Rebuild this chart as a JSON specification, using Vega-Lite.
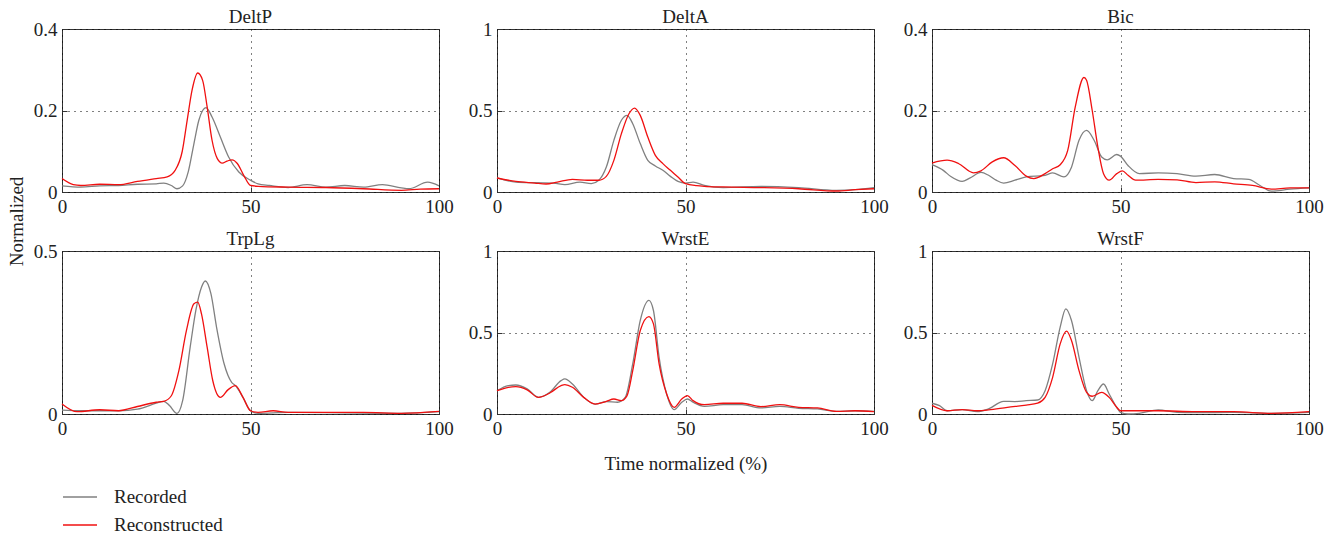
{
"$schema":"https://vega.github.io/schema/vega-lite/v6.json",
"padding":{"left":6,"top":7,"right":5,"bottom":5},
"background":"white",
"datasets":{"d":[
{"m":"DeltP","s":"Recorded","t":0,"v":0.015},{"m":"DeltP","s":"Recorded","t":5,"v":0.012},{"m":"DeltP","s":"Recorded","t":10,"v":0.015},{"m":"DeltP","s":"Recorded","t":15,"v":0.016},{"m":"DeltP","s":"Recorded","t":20,"v":0.019},{"m":"DeltP","s":"Recorded","t":25,"v":0.02},{"m":"DeltP","s":"Recorded","t":27,"v":0.022},{"m":"DeltP","s":"Recorded","t":29,"v":0.016},{"m":"DeltP","s":"Recorded","t":30.5,"v":0.008},{"m":"DeltP","s":"Recorded","t":32,"v":0.015},{"m":"DeltP","s":"Recorded","t":33.5,"v":0.05},{"m":"DeltP","s":"Recorded","t":35,"v":0.119},{"m":"DeltP","s":"Recorded","t":36.3,"v":0.176},{"m":"DeltP","s":"Recorded","t":37.3,"v":0.2},{"m":"DeltP","s":"Recorded","t":38.2,"v":0.207},{"m":"DeltP","s":"Recorded","t":39.8,"v":0.184},{"m":"DeltP","s":"Recorded","t":42,"v":0.135},{"m":"DeltP","s":"Recorded","t":44.2,"v":0.086},{"m":"DeltP","s":"Recorded","t":46.9,"v":0.049},{"m":"DeltP","s":"Recorded","t":50,"v":0.029},{"m":"DeltP","s":"Recorded","t":52,"v":0.02},{"m":"DeltP","s":"Recorded","t":55,"v":0.016},{"m":"DeltP","s":"Recorded","t":60,"v":0.011},{"m":"DeltP","s":"Recorded","t":65,"v":0.018},{"m":"DeltP","s":"Recorded","t":70,"v":0.012},{"m":"DeltP","s":"Recorded","t":75,"v":0.016},{"m":"DeltP","s":"Recorded","t":80,"v":0.012},{"m":"DeltP","s":"Recorded","t":85,"v":0.018},{"m":"DeltP","s":"Recorded","t":90,"v":0.01},{"m":"DeltP","s":"Recorded","t":92,"v":0.008},{"m":"DeltP","s":"Recorded","t":97,"v":0.024},{"m":"DeltP","s":"Recorded","t":100,"v":0.015},
{"m":"DeltP","s":"Reconstructed","t":0,"v":0.033},{"m":"DeltP","s":"Reconstructed","t":3,"v":0.018},{"m":"DeltP","s":"Reconstructed","t":5,"v":0.016},{"m":"DeltP","s":"Reconstructed","t":10,"v":0.019},{"m":"DeltP","s":"Reconstructed","t":15,"v":0.018},{"m":"DeltP","s":"Reconstructed","t":20,"v":0.026},{"m":"DeltP","s":"Reconstructed","t":25,"v":0.033},{"m":"DeltP","s":"Reconstructed","t":27.9,"v":0.037},{"m":"DeltP","s":"Reconstructed","t":30,"v":0.053},{"m":"DeltP","s":"Reconstructed","t":31.9,"v":0.1},{"m":"DeltP","s":"Reconstructed","t":33.2,"v":0.176},{"m":"DeltP","s":"Reconstructed","t":34.5,"v":0.25},{"m":"DeltP","s":"Reconstructed","t":36,"v":0.292},{"m":"DeltP","s":"Reconstructed","t":37.3,"v":0.274},{"m":"DeltP","s":"Reconstructed","t":38.5,"v":0.209},{"m":"DeltP","s":"Reconstructed","t":39.8,"v":0.127},{"m":"DeltP","s":"Reconstructed","t":41.2,"v":0.082},{"m":"DeltP","s":"Reconstructed","t":42.5,"v":0.071},{"m":"DeltP","s":"Reconstructed","t":43.8,"v":0.076},{"m":"DeltP","s":"Reconstructed","t":45.1,"v":0.079},{"m":"DeltP","s":"Reconstructed","t":46.5,"v":0.07},{"m":"DeltP","s":"Reconstructed","t":48.2,"v":0.041},{"m":"DeltP","s":"Reconstructed","t":50,"v":0.016},{"m":"DeltP","s":"Reconstructed","t":52,"v":0.014},{"m":"DeltP","s":"Reconstructed","t":60,"v":0.012},{"m":"DeltP","s":"Reconstructed","t":70,"v":0.011},{"m":"DeltP","s":"Reconstructed","t":80,"v":0.008},{"m":"DeltP","s":"Reconstructed","t":90,"v":0.004},{"m":"DeltP","s":"Reconstructed","t":95,"v":0.007},{"m":"DeltP","s":"Reconstructed","t":100,"v":0.008},
{"m":"DeltA","s":"Recorded","t":0,"v":0.086},{"m":"DeltA","s":"Recorded","t":5,"v":0.061},{"m":"DeltA","s":"Recorded","t":10,"v":0.057},{"m":"DeltA","s":"Recorded","t":15,"v":0.055},{"m":"DeltA","s":"Recorded","t":18,"v":0.045},{"m":"DeltA","s":"Recorded","t":22,"v":0.061},{"m":"DeltA","s":"Recorded","t":25,"v":0.051},{"m":"DeltA","s":"Recorded","t":27,"v":0.072},{"m":"DeltA","s":"Recorded","t":29,"v":0.153},{"m":"DeltA","s":"Recorded","t":31,"v":0.317},{"m":"DeltA","s":"Recorded","t":33,"v":0.44},{"m":"DeltA","s":"Recorded","t":34.5,"v":0.47},{"m":"DeltA","s":"Recorded","t":36,"v":0.419},{"m":"DeltA","s":"Recorded","t":38,"v":0.297},{"m":"DeltA","s":"Recorded","t":40,"v":0.194},{"m":"DeltA","s":"Recorded","t":42,"v":0.16},{"m":"DeltA","s":"Recorded","t":44,"v":0.133},{"m":"DeltA","s":"Recorded","t":46,"v":0.096},{"m":"DeltA","s":"Recorded","t":48,"v":0.065},{"m":"DeltA","s":"Recorded","t":50,"v":0.055},{"m":"DeltA","s":"Recorded","t":52,"v":0.061},{"m":"DeltA","s":"Recorded","t":55,"v":0.041},{"m":"DeltA","s":"Recorded","t":60,"v":0.027},{"m":"DeltA","s":"Recorded","t":70,"v":0.035},{"m":"DeltA","s":"Recorded","t":80,"v":0.027},{"m":"DeltA","s":"Recorded","t":90,"v":0.01},{"m":"DeltA","s":"Recorded","t":95,"v":0.014},{"m":"DeltA","s":"Recorded","t":100,"v":0.027},
{"m":"DeltA","s":"Reconstructed","t":0,"v":0.086},{"m":"DeltA","s":"Reconstructed","t":5,"v":0.065},{"m":"DeltA","s":"Reconstructed","t":10,"v":0.055},{"m":"DeltA","s":"Reconstructed","t":13,"v":0.049},{"m":"DeltA","s":"Reconstructed","t":16,"v":0.061},{"m":"DeltA","s":"Reconstructed","t":20,"v":0.078},{"m":"DeltA","s":"Reconstructed","t":24,"v":0.072},{"m":"DeltA","s":"Reconstructed","t":27,"v":0.072},{"m":"DeltA","s":"Reconstructed","t":29,"v":0.096},{"m":"DeltA","s":"Reconstructed","t":31,"v":0.194},{"m":"DeltA","s":"Reconstructed","t":33,"v":0.358},{"m":"DeltA","s":"Reconstructed","t":35,"v":0.48},{"m":"DeltA","s":"Reconstructed","t":36.5,"v":0.515},{"m":"DeltA","s":"Reconstructed","t":38,"v":0.47},{"m":"DeltA","s":"Reconstructed","t":40,"v":0.337},{"m":"DeltA","s":"Reconstructed","t":42,"v":0.225},{"m":"DeltA","s":"Reconstructed","t":44,"v":0.174},{"m":"DeltA","s":"Reconstructed","t":46,"v":0.133},{"m":"DeltA","s":"Reconstructed","t":48,"v":0.092},{"m":"DeltA","s":"Reconstructed","t":50,"v":0.051},{"m":"DeltA","s":"Reconstructed","t":53,"v":0.039},{"m":"DeltA","s":"Reconstructed","t":55,"v":0.035},{"m":"DeltA","s":"Reconstructed","t":60,"v":0.031},{"m":"DeltA","s":"Reconstructed","t":70,"v":0.027},{"m":"DeltA","s":"Reconstructed","t":80,"v":0.02},{"m":"DeltA","s":"Reconstructed","t":90,"v":0.006},{"m":"DeltA","s":"Reconstructed","t":95,"v":0.014},{"m":"DeltA","s":"Reconstructed","t":100,"v":0.02},
{"m":"Bic","s":"Recorded","t":0,"v":0.067},{"m":"Bic","s":"Recorded","t":3,"v":0.053},{"m":"Bic","s":"Recorded","t":5,"v":0.038},{"m":"Bic","s":"Recorded","t":8,"v":0.026},{"m":"Bic","s":"Recorded","t":10,"v":0.034},{"m":"Bic","s":"Recorded","t":13,"v":0.048},{"m":"Bic","s":"Recorded","t":15,"v":0.041},{"m":"Bic","s":"Recorded","t":17,"v":0.029},{"m":"Bic","s":"Recorded","t":19,"v":0.022},{"m":"Bic","s":"Recorded","t":22,"v":0.029},{"m":"Bic","s":"Recorded","t":25,"v":0.037},{"m":"Bic","s":"Recorded","t":30,"v":0.041},{"m":"Bic","s":"Recorded","t":32,"v":0.047},{"m":"Bic","s":"Recorded","t":35,"v":0.037},{"m":"Bic","s":"Recorded","t":37,"v":0.061},{"m":"Bic","s":"Recorded","t":39,"v":0.127},{"m":"Bic","s":"Recorded","t":41,"v":0.151},{"m":"Bic","s":"Recorded","t":43,"v":0.127},{"m":"Bic","s":"Recorded","t":45,"v":0.086},{"m":"Bic","s":"Recorded","t":46.5,"v":0.079},{"m":"Bic","s":"Recorded","t":49,"v":0.092},{"m":"Bic","s":"Recorded","t":50,"v":0.088},{"m":"Bic","s":"Recorded","t":52,"v":0.065},{"m":"Bic","s":"Recorded","t":55,"v":0.045},{"m":"Bic","s":"Recorded","t":60,"v":0.047},{"m":"Bic","s":"Recorded","t":65,"v":0.045},{"m":"Bic","s":"Recorded","t":70,"v":0.039},{"m":"Bic","s":"Recorded","t":75,"v":0.043},{"m":"Bic","s":"Recorded","t":80,"v":0.033},{"m":"Bic","s":"Recorded","t":84,"v":0.031},{"m":"Bic","s":"Recorded","t":87,"v":0.016},{"m":"Bic","s":"Recorded","t":90,"v":0.002},{"m":"Bic","s":"Recorded","t":95,"v":0.007},{"m":"Bic","s":"Recorded","t":100,"v":0.01},
{"m":"Bic","s":"Reconstructed","t":0,"v":0.071},{"m":"Bic","s":"Reconstructed","t":4,"v":0.078},{"m":"Bic","s":"Reconstructed","t":7,"v":0.07},{"m":"Bic","s":"Reconstructed","t":11,"v":0.047},{"m":"Bic","s":"Reconstructed","t":13,"v":0.052},{"m":"Bic","s":"Reconstructed","t":16,"v":0.074},{"m":"Bic","s":"Reconstructed","t":19,"v":0.084},{"m":"Bic","s":"Reconstructed","t":22,"v":0.065},{"m":"Bic","s":"Reconstructed","t":25,"v":0.039},{"m":"Bic","s":"Reconstructed","t":27,"v":0.033},{"m":"Bic","s":"Reconstructed","t":30,"v":0.045},{"m":"Bic","s":"Reconstructed","t":32,"v":0.057},{"m":"Bic","s":"Reconstructed","t":34,"v":0.067},{"m":"Bic","s":"Reconstructed","t":36,"v":0.102},{"m":"Bic","s":"Reconstructed","t":38,"v":0.209},{"m":"Bic","s":"Reconstructed","t":40.3,"v":0.281},{"m":"Bic","s":"Reconstructed","t":41,"v":0.274},{"m":"Bic","s":"Reconstructed","t":42.5,"v":0.2},{"m":"Bic","s":"Reconstructed","t":44,"v":0.11},{"m":"Bic","s":"Reconstructed","t":45.5,"v":0.045},{"m":"Bic","s":"Reconstructed","t":47,"v":0.029},{"m":"Bic","s":"Reconstructed","t":49,"v":0.045},{"m":"Bic","s":"Reconstructed","t":50.5,"v":0.052},{"m":"Bic","s":"Reconstructed","t":52,"v":0.041},{"m":"Bic","s":"Reconstructed","t":54,"v":0.029},{"m":"Bic","s":"Reconstructed","t":60,"v":0.031},{"m":"Bic","s":"Reconstructed","t":65,"v":0.03},{"m":"Bic","s":"Reconstructed","t":70,"v":0.023},{"m":"Bic","s":"Reconstructed","t":75,"v":0.025},{"m":"Bic","s":"Reconstructed","t":80,"v":0.02},{"m":"Bic","s":"Reconstructed","t":85,"v":0.016},{"m":"Bic","s":"Reconstructed","t":90,"v":0.007},{"m":"Bic","s":"Reconstructed","t":95,"v":0.01},{"m":"Bic","s":"Reconstructed","t":100,"v":0.01},
{"m":"TrpLg","s":"Recorded","t":0,"v":0.012},{"m":"TrpLg","s":"Recorded","t":5,"v":0.01},{"m":"TrpLg","s":"Recorded","t":10,"v":0.01},{"m":"TrpLg","s":"Recorded","t":15,"v":0.01},{"m":"TrpLg","s":"Recorded","t":20,"v":0.015},{"m":"TrpLg","s":"Recorded","t":25,"v":0.033},{"m":"TrpLg","s":"Recorded","t":27,"v":0.039},{"m":"TrpLg","s":"Recorded","t":28.5,"v":0.026},{"m":"TrpLg","s":"Recorded","t":30.5,"v":0.002},{"m":"TrpLg","s":"Recorded","t":32,"v":0.041},{"m":"TrpLg","s":"Recorded","t":34,"v":0.205},{"m":"TrpLg","s":"Recorded","t":35.5,"v":0.318},{"m":"TrpLg","s":"Recorded","t":37,"v":0.389},{"m":"TrpLg","s":"Recorded","t":38,"v":0.408},{"m":"TrpLg","s":"Recorded","t":39.5,"v":0.369},{"m":"TrpLg","s":"Recorded","t":41,"v":0.266},{"m":"TrpLg","s":"Recorded","t":43,"v":0.154},{"m":"TrpLg","s":"Recorded","t":45,"v":0.097},{"m":"TrpLg","s":"Recorded","t":46,"v":0.087},{"m":"TrpLg","s":"Recorded","t":48,"v":0.051},{"m":"TrpLg","s":"Recorded","t":50,"v":0.01},{"m":"TrpLg","s":"Recorded","t":52,"v":0.002},{"m":"TrpLg","s":"Recorded","t":60,"v":0.005},{"m":"TrpLg","s":"Recorded","t":70,"v":0.004},{"m":"TrpLg","s":"Recorded","t":80,"v":0.003},{"m":"TrpLg","s":"Recorded","t":90,"v":0.002},{"m":"TrpLg","s":"Recorded","t":100,"v":0.007},
{"m":"TrpLg","s":"Reconstructed","t":0,"v":0.031},{"m":"TrpLg","s":"Reconstructed","t":4,"v":0.007},{"m":"TrpLg","s":"Reconstructed","t":10,"v":0.013},{"m":"TrpLg","s":"Reconstructed","t":15,"v":0.01},{"m":"TrpLg","s":"Reconstructed","t":20,"v":0.023},{"m":"TrpLg","s":"Reconstructed","t":25,"v":0.036},{"m":"TrpLg","s":"Reconstructed","t":27,"v":0.039},{"m":"TrpLg","s":"Reconstructed","t":29,"v":0.056},{"m":"TrpLg","s":"Reconstructed","t":31,"v":0.133},{"m":"TrpLg","s":"Reconstructed","t":33,"v":0.256},{"m":"TrpLg","s":"Reconstructed","t":35,"v":0.338},{"m":"TrpLg","s":"Reconstructed","t":36,"v":0.343},{"m":"TrpLg","s":"Reconstructed","t":37,"v":0.307},{"m":"TrpLg","s":"Reconstructed","t":38.5,"v":0.205},{"m":"TrpLg","s":"Reconstructed","t":40,"v":0.102},{"m":"TrpLg","s":"Reconstructed","t":42,"v":0.051},{"m":"TrpLg","s":"Reconstructed","t":44,"v":0.074},{"m":"TrpLg","s":"Reconstructed","t":46,"v":0.087},{"m":"TrpLg","s":"Reconstructed","t":48,"v":0.051},{"m":"TrpLg","s":"Reconstructed","t":50,"v":0.01},{"m":"TrpLg","s":"Reconstructed","t":52,"v":0.005},{"m":"TrpLg","s":"Reconstructed","t":56,"v":0.01},{"m":"TrpLg","s":"Reconstructed","t":60,"v":0.005},{"m":"TrpLg","s":"Reconstructed","t":70,"v":0.005},{"m":"TrpLg","s":"Reconstructed","t":80,"v":0.005},{"m":"TrpLg","s":"Reconstructed","t":90,"v":0.002},{"m":"TrpLg","s":"Reconstructed","t":100,"v":0.008},
{"m":"WrstE","s":"Recorded","t":0,"v":0.143},{"m":"WrstE","s":"Recorded","t":3,"v":0.174},{"m":"WrstE","s":"Recorded","t":5,"v":0.178},{"m":"WrstE","s":"Recorded","t":8,"v":0.154},{"m":"WrstE","s":"Recorded","t":11,"v":0.102},{"m":"WrstE","s":"Recorded","t":14,"v":0.133},{"m":"WrstE","s":"Recorded","t":17,"v":0.205},{"m":"WrstE","s":"Recorded","t":18,"v":0.215},{"m":"WrstE","s":"Recorded","t":20,"v":0.184},{"m":"WrstE","s":"Recorded","t":23,"v":0.102},{"m":"WrstE","s":"Recorded","t":26,"v":0.061},{"m":"WrstE","s":"Recorded","t":29,"v":0.076},{"m":"WrstE","s":"Recorded","t":32,"v":0.072},{"m":"WrstE","s":"Recorded","t":34,"v":0.102},{"m":"WrstE","s":"Recorded","t":36,"v":0.307},{"m":"WrstE","s":"Recorded","t":38,"v":0.574},{"m":"WrstE","s":"Recorded","t":40.3,"v":0.697},{"m":"WrstE","s":"Recorded","t":41.5,"v":0.635},{"m":"WrstE","s":"Recorded","t":43,"v":0.348},{"m":"WrstE","s":"Recorded","t":45,"v":0.123},{"m":"WrstE","s":"Recorded","t":47,"v":0.027},{"m":"WrstE","s":"Recorded","t":49,"v":0.072},{"m":"WrstE","s":"Recorded","t":50.5,"v":0.092},{"m":"WrstE","s":"Recorded","t":52,"v":0.072},{"m":"WrstE","s":"Recorded","t":55,"v":0.047},{"m":"WrstE","s":"Recorded","t":60,"v":0.057},{"m":"WrstE","s":"Recorded","t":65,"v":0.057},{"m":"WrstE","s":"Recorded","t":70,"v":0.037},{"m":"WrstE","s":"Recorded","t":75,"v":0.047},{"m":"WrstE","s":"Recorded","t":80,"v":0.035},{"m":"WrstE","s":"Recorded","t":85,"v":0.031},{"m":"WrstE","s":"Recorded","t":90,"v":0.016},{"m":"WrstE","s":"Recorded","t":95,"v":0.02},{"m":"WrstE","s":"Recorded","t":100,"v":0.016},
{"m":"WrstE","s":"Reconstructed","t":0,"v":0.143},{"m":"WrstE","s":"Reconstructed","t":3,"v":0.164},{"m":"WrstE","s":"Reconstructed","t":5,"v":0.168},{"m":"WrstE","s":"Reconstructed","t":8,"v":0.148},{"m":"WrstE","s":"Reconstructed","t":11,"v":0.102},{"m":"WrstE","s":"Reconstructed","t":14,"v":0.129},{"m":"WrstE","s":"Reconstructed","t":17,"v":0.174},{"m":"WrstE","s":"Reconstructed","t":18,"v":0.18},{"m":"WrstE","s":"Reconstructed","t":20,"v":0.164},{"m":"WrstE","s":"Reconstructed","t":23,"v":0.102},{"m":"WrstE","s":"Reconstructed","t":26,"v":0.061},{"m":"WrstE","s":"Reconstructed","t":29,"v":0.078},{"m":"WrstE","s":"Reconstructed","t":31,"v":0.092},{"m":"WrstE","s":"Reconstructed","t":33,"v":0.082},{"m":"WrstE","s":"Reconstructed","t":34.5,"v":0.113},{"m":"WrstE","s":"Reconstructed","t":36,"v":0.266},{"m":"WrstE","s":"Reconstructed","t":38,"v":0.512},{"m":"WrstE","s":"Reconstructed","t":40.3,"v":0.598},{"m":"WrstE","s":"Reconstructed","t":41.5,"v":0.553},{"m":"WrstE","s":"Reconstructed","t":43,"v":0.307},{"m":"WrstE","s":"Reconstructed","t":45,"v":0.123},{"m":"WrstE","s":"Reconstructed","t":47,"v":0.041},{"m":"WrstE","s":"Reconstructed","t":49,"v":0.092},{"m":"WrstE","s":"Reconstructed","t":50.5,"v":0.113},{"m":"WrstE","s":"Reconstructed","t":52,"v":0.082},{"m":"WrstE","s":"Reconstructed","t":55,"v":0.057},{"m":"WrstE","s":"Reconstructed","t":60,"v":0.066},{"m":"WrstE","s":"Reconstructed","t":65,"v":0.066},{"m":"WrstE","s":"Reconstructed","t":70,"v":0.045},{"m":"WrstE","s":"Reconstructed","t":75,"v":0.057},{"m":"WrstE","s":"Reconstructed","t":80,"v":0.041},{"m":"WrstE","s":"Reconstructed","t":85,"v":0.037},{"m":"WrstE","s":"Reconstructed","t":90,"v":0.016},{"m":"WrstE","s":"Reconstructed","t":95,"v":0.02},{"m":"WrstE","s":"Reconstructed","t":100,"v":0.014},
{"m":"WrstF","s":"Recorded","t":0,"v":0.066},{"m":"WrstF","s":"Recorded","t":2,"v":0.051},{"m":"WrstF","s":"Recorded","t":4,"v":0.02},{"m":"WrstF","s":"Recorded","t":8,"v":0.027},{"m":"WrstF","s":"Recorded","t":12,"v":0.014},{"m":"WrstF","s":"Recorded","t":15,"v":0.031},{"m":"WrstF","s":"Recorded","t":19,"v":0.078},{"m":"WrstF","s":"Recorded","t":22,"v":0.076},{"m":"WrstF","s":"Recorded","t":25,"v":0.082},{"m":"WrstF","s":"Recorded","t":28,"v":0.086},{"m":"WrstF","s":"Recorded","t":30,"v":0.143},{"m":"WrstF","s":"Recorded","t":32,"v":0.307},{"m":"WrstF","s":"Recorded","t":34,"v":0.533},{"m":"WrstF","s":"Recorded","t":35.5,"v":0.645},{"m":"WrstF","s":"Recorded","t":37,"v":0.574},{"m":"WrstF","s":"Recorded","t":39,"v":0.348},{"m":"WrstF","s":"Recorded","t":41,"v":0.143},{"m":"WrstF","s":"Recorded","t":42.5,"v":0.082},{"m":"WrstF","s":"Recorded","t":44,"v":0.143},{"m":"WrstF","s":"Recorded","t":45.5,"v":0.184},{"m":"WrstF","s":"Recorded","t":47,"v":0.123},{"m":"WrstF","s":"Recorded","t":49,"v":0.041},{"m":"WrstF","s":"Recorded","t":50,"v":0.01},{"m":"WrstF","s":"Recorded","t":52,"v":0.0},{"m":"WrstF","s":"Recorded","t":55,"v":0.004},{"m":"WrstF","s":"Recorded","t":60,"v":0.025},{"m":"WrstF","s":"Recorded","t":65,"v":0.01},{"m":"WrstF","s":"Recorded","t":70,"v":0.008},{"m":"WrstF","s":"Recorded","t":80,"v":0.01},{"m":"WrstF","s":"Recorded","t":90,"v":0.004},{"m":"WrstF","s":"Recorded","t":100,"v":0.01},
{"m":"WrstF","s":"Reconstructed","t":0,"v":0.053},{"m":"WrstF","s":"Reconstructed","t":4,"v":0.02},{"m":"WrstF","s":"Reconstructed","t":8,"v":0.027},{"m":"WrstF","s":"Reconstructed","t":12,"v":0.02},{"m":"WrstF","s":"Reconstructed","t":15,"v":0.025},{"m":"WrstF","s":"Reconstructed","t":20,"v":0.041},{"m":"WrstF","s":"Reconstructed","t":25,"v":0.055},{"m":"WrstF","s":"Reconstructed","t":28,"v":0.066},{"m":"WrstF","s":"Reconstructed","t":30,"v":0.102},{"m":"WrstF","s":"Reconstructed","t":32,"v":0.225},{"m":"WrstF","s":"Reconstructed","t":34,"v":0.43},{"m":"WrstF","s":"Reconstructed","t":35.7,"v":0.508},{"m":"WrstF","s":"Reconstructed","t":37,"v":0.451},{"m":"WrstF","s":"Reconstructed","t":39,"v":0.266},{"m":"WrstF","s":"Reconstructed","t":41,"v":0.133},{"m":"WrstF","s":"Reconstructed","t":42.5,"v":0.109},{"m":"WrstF","s":"Reconstructed","t":45,"v":0.133},{"m":"WrstF","s":"Reconstructed","t":47,"v":0.102},{"m":"WrstF","s":"Reconstructed","t":49,"v":0.041},{"m":"WrstF","s":"Reconstructed","t":50,"v":0.02},{"m":"WrstF","s":"Reconstructed","t":55,"v":0.02},{"m":"WrstF","s":"Reconstructed","t":60,"v":0.02},{"m":"WrstF","s":"Reconstructed","t":70,"v":0.014},{"m":"WrstF","s":"Reconstructed","t":80,"v":0.014},{"m":"WrstF","s":"Reconstructed","t":90,"v":0.004},{"m":"WrstF","s":"Reconstructed","t":100,"v":0.014}
]},
"data":{"name":"d"},
"columns":3,
"spacing":{"row":59,"column":58},
"bounds":"flush",
"resolve":{"scale":{"x":"independent","y":"independent","color":"shared"},"legend":{"color":"shared"}},
"concat":[
{"width":377,"height":163,"title":"DeltP","transform":[{"filter":"datum.m==='DeltP'"}],
 "mark":{"type":"line","interpolate":"monotone","strokeWidth":1.3},
 "encoding":{
  "x":{"field":"t","type":"quantitative","scale":{"domain":[0,100],"nice":false},"axis":{"values":[0,50,100],"title":null}},
  "y":{"field":"v","type":"quantitative","scale":{"domain":[0,0.4],"nice":false},"axis":{"values":[0,0.2,0.4],"title":"Normalized","titleX":-46,"titleY":192,"titleBaseline":"middle","titleAngle":-90}},
  "color":{"field":"s","type":"nominal","scale":{"domain":["Recorded","Reconstructed"],"range":["#808080","#f01010"]},"legend":{"orient":"none","legendX":0,"legendY":450,"title":null}}}},
{"width":377,"height":163,"title":"DeltA","transform":[{"filter":"datum.m==='DeltA'"}],
 "mark":{"type":"line","interpolate":"monotone","strokeWidth":1.3},
 "encoding":{
  "x":{"field":"t","type":"quantitative","scale":{"domain":[0,100],"nice":false},"axis":{"values":[0,50,100],"title":null}},
  "y":{"field":"v","type":"quantitative","scale":{"domain":[0,1],"nice":false},"axis":{"values":[0,0.5,1],"title":null}},
  "color":{"field":"s","type":"nominal","scale":{"domain":["Recorded","Reconstructed"],"range":["#808080","#f01010"]},"legend":{"orient":"none","legendX":0,"legendY":450,"title":null}}}},
{"width":377,"height":163,"title":"Bic","transform":[{"filter":"datum.m==='Bic'"}],
 "mark":{"type":"line","interpolate":"monotone","strokeWidth":1.3},
 "encoding":{
  "x":{"field":"t","type":"quantitative","scale":{"domain":[0,100],"nice":false},"axis":{"values":[0,50,100],"title":null}},
  "y":{"field":"v","type":"quantitative","scale":{"domain":[0,0.4],"nice":false},"axis":{"values":[0,0.2,0.4],"title":null}},
  "color":{"field":"s","type":"nominal","scale":{"domain":["Recorded","Reconstructed"],"range":["#808080","#f01010"]},"legend":{"orient":"none","legendX":0,"legendY":450,"title":null}}}},
{"width":377,"height":163,"title":"TrpLg","transform":[{"filter":"datum.m==='TrpLg'"}],
 "mark":{"type":"line","interpolate":"monotone","strokeWidth":1.3},
 "encoding":{
  "x":{"field":"t","type":"quantitative","scale":{"domain":[0,100],"nice":false},"axis":{"values":[0,50,100],"title":null}},
  "y":{"field":"v","type":"quantitative","scale":{"domain":[0,0.5],"nice":false},"axis":{"values":[0,0.5],"title":null}},
  "color":{"field":"s","type":"nominal","scale":{"domain":["Recorded","Reconstructed"],"range":["#808080","#f01010"]},"legend":{"orient":"none","legendX":0,"legendY":450,"title":null}}}},
{"width":377,"height":163,"title":"WrstE","transform":[{"filter":"datum.m==='WrstE'"}],
 "mark":{"type":"line","interpolate":"monotone","strokeWidth":1.3},
 "encoding":{
  "x":{"field":"t","type":"quantitative","scale":{"domain":[0,100],"nice":false},"axis":{"values":[0,50,100],"title":"Time normalized (%)","titlePadding":16}},
  "y":{"field":"v","type":"quantitative","scale":{"domain":[0,1],"nice":false},"axis":{"values":[0,0.5,1],"title":null}},
  "color":{"field":"s","type":"nominal","scale":{"domain":["Recorded","Reconstructed"],"range":["#808080","#f01010"]},"legend":{"orient":"none","legendX":0,"legendY":450,"title":null}}}},
{"width":377,"height":163,"title":"WrstF","transform":[{"filter":"datum.m==='WrstF'"}],
 "mark":{"type":"line","interpolate":"monotone","strokeWidth":1.3},
 "encoding":{
  "x":{"field":"t","type":"quantitative","scale":{"domain":[0,100],"nice":false},"axis":{"values":[0,50,100],"title":null}},
  "y":{"field":"v","type":"quantitative","scale":{"domain":[0,1],"nice":false},"axis":{"values":[0,0.5,1],"title":null}},
  "color":{"field":"s","type":"nominal","scale":{"domain":["Recorded","Reconstructed"],"range":["#808080","#f01010"]},"legend":{"orient":"none","legendX":0,"legendY":450,"title":null}}}}
],
"config":{
 "font":"Liberation Serif",
 "view":{"stroke":"#333","strokeWidth":1},
 "axis":{"grid":true,"gridColor":"#000","gridDash":[1,5],"gridOpacity":1,"gridWidth":1,"domain":false,"tickColor":"#333","tickSize":-5,"labelPadding":10,"labelFontSize":19,"labelColor":"#222","labelFont":"Liberation Serif","labelFlush":false,"format":"~r","titleFont":"Liberation Serif","titleFontSize":19,"titleFontWeight":"normal","titleColor":"#222"},
 "title":{"fontSize":19,"fontWeight":"normal","font":"Liberation Serif","color":"#222","offset":-7},
 "legend":{"symbolType":"stroke","symbolSize":1156,"symbolStrokeWidth":1.3,"labelFontSize":19,"labelFont":"Liberation Serif","labelColor":"#222","labelOffset":16,"rowPadding":-7,"padding":0}
}
}
